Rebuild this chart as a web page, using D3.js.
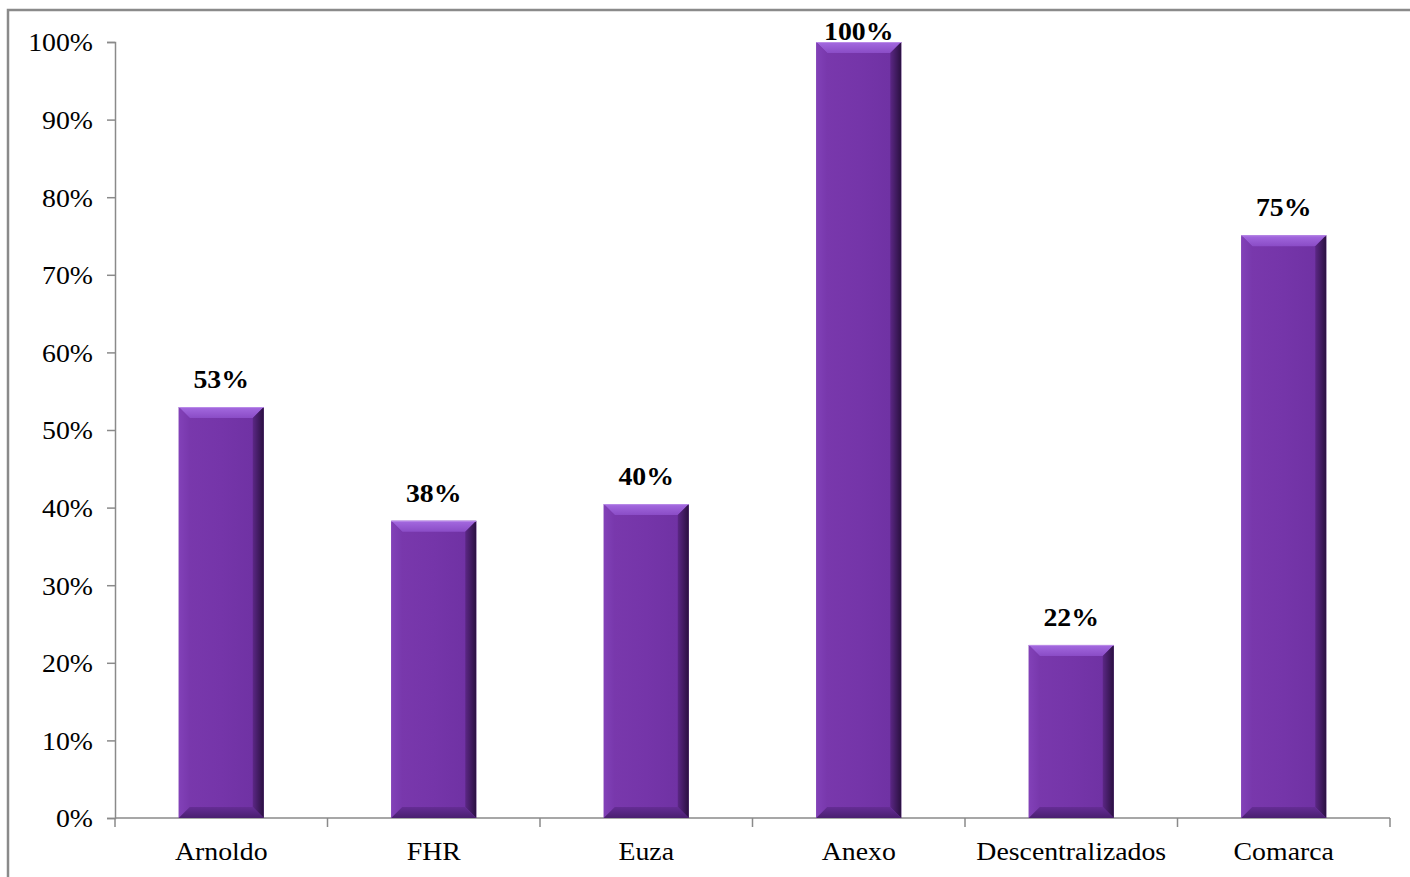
<!DOCTYPE html>
<html><head><meta charset="utf-8">
<script src="https://cdn.jsdelivr.net/npm/d3@7"></script>
<style>html,body{margin:0;padding:0;background:#fff;}svg{display:block;}</style>
</head><body>
<svg id="chart" width="1410" height="877"></svg>
<script>
const categories = ["Arnoldo","FHR","Euza","Anexo","Descentralizados","Comarca"];
const values = [52.96, 38.3, 40.45, 100, 22.3, 75.1];
const yTicks = [0,10,20,30,40,50,60,70,80,90,100];

const svg = d3.select("#chart");
const W = 1410, H = 877;
const m = {left:115, right:20, top:42, bottom:59};
const x0 = 115, x1 = 1390, yTop = 42, yBot = 818;

// chart border
svg.append("rect").attr("x",8).attr("y",10).attr("width",1420).attr("height",900)
  .attr("fill","none").attr("stroke","#8a8a8a").attr("stroke-width",2.5);

const x = d3.scaleBand().domain(categories).range([x0,x1]).paddingInner(0.6).paddingOuter(0.3);
const y = d3.scaleLinear().domain([0,100]).range([yBot,yTop]);

const font = "'Liberation Serif','Times New Roman',serif";
const SX = 1.07;

// y axis
const yAxis = svg.append("g").attr("transform",`translate(${x0},0)`)
  .call(d3.axisLeft(y).tickValues(yTicks).tickSize(8).tickPadding(14).tickFormat(d=>d+"%"));
yAxis.select(".domain").attr("stroke","#8a8a8a").attr("stroke-width",1.5);
yAxis.selectAll(".tick line").attr("stroke","#8a8a8a").attr("stroke-width",1.5);
yAxis.selectAll(".tick text").attr("font-family",font).attr("font-size",26).attr("fill","#000")
  .attr("dy","0.34em")
  .attr("transform",function(){const xx=+d3.select(this).attr("x");return `translate(${xx},0) scale(${SX},1) translate(${-xx},0)`;});

// x axis: baseline + boundary ticks
const boundaries = categories.map((c,i)=>x0 + i*(x1-x0)/categories.length).concat([x1]);
svg.append("line").attr("x1",x0).attr("x2",x1).attr("y1",yBot).attr("y2",yBot)
  .attr("stroke","#8a8a8a").attr("stroke-width",1.5);
svg.selectAll(".xtick").data(boundaries).join("line").attr("class","xtick")
  .attr("x1",d=>d).attr("x2",d=>d).attr("y1",yBot).attr("y2",yBot+9)
  .attr("stroke","#8a8a8a").attr("stroke-width",1.5);
svg.selectAll(".xlab").data(categories).join("text").attr("class","xlab")
  .attr("transform",d=>`translate(${x(d)+x.bandwidth()/2},860) scale(${SX},1)`)
  .attr("text-anchor","middle").attr("font-family",font).attr("font-size",26).attr("fill","#000")
  .text(d=>d);

// gradients
const defs = svg.append("defs");
function lg(id, x1_,y1_,x2_,y2_, stops){
  const g = defs.append("linearGradient").attr("id",id)
    .attr("x1",x1_).attr("y1",y1_).attr("x2",x2_).attr("y2",y2_);
  stops.forEach(s=>g.append("stop").attr("offset",s[0]).attr("stop-color",s[1]));
}
lg("gMain","0","0","1","0",[[0,"#7a39ad"],[0.5,"#7535a9"],[1,"#6e31a2"]]);
lg("gTop","0","0","0","1",[[0,"#a46ae0"],[1,"#8a4cc6"]]);
lg("gRight","0","0","1","0",[[0,"#5b2785"],[1,"#2a1040"]]);
lg("gLeft","0","0","1","0",[[0,"#8241b8"],[1,"#7838ac"]]);
lg("gBot","0","0","0","1",[[0,"#652d95"],[1,"#4a1f70"]]);

const bev = 11;
const data = categories.map((c,i)=>({c, v:values[i]}));
const bars = svg.selectAll(".bar").data(data).join("g").attr("class","bar");
bars.each(function(d){
  const g = d3.select(this);
  const bx = x(d.c), bw = x.bandwidth(), ty = y(d.v), by = y(0);
  const b = Math.min(bev, (by-ty)/2);
  g.append("rect").attr("x",bx).attr("y",ty).attr("width",bw).attr("height",by-ty).attr("fill","url(#gMain)");
  const poly = (pts,fill)=>g.append("polygon").attr("points",pts.map(p=>p.join(",")).join(" ")).attr("fill",fill);
  poly([[bx,ty],[bx+bw,ty],[bx+bw-b,ty+b],[bx+b,ty+b]],"url(#gTop)");
  poly([[bx,ty],[bx+b,ty+b],[bx+b,by-b],[bx,by]],"url(#gLeft)");
  poly([[bx+bw,ty],[bx+bw,by],[bx+bw-b,by-b],[bx+bw-b,ty+b]],"url(#gRight)");
  poly([[bx,by],[bx+b,by-b],[bx+bw-b,by-b],[bx+bw,by]],"url(#gBot)");
  // thin light line at top edge
  g.append("line").attr("x1",bx).attr("x2",bx+bw).attr("y1",ty+0.5).attr("y2",ty+0.5)
    .attr("stroke","#b98ae8").attr("stroke-width",1);
});

// value labels
svg.selectAll(".vlab").data(data).join("text").attr("class","vlab")
  .attr("transform",d=>`translate(${x(d.c)+x.bandwidth()/2},${Math.max(y(d.v)-19,40)}) scale(${SX},1)`)
  .attr("text-anchor","middle").attr("font-family",font).attr("font-weight","bold")
  .attr("font-size",26).attr("fill","#000")
  .text(d=>Math.round(d.v)+"%");
</script>
</body></html>
